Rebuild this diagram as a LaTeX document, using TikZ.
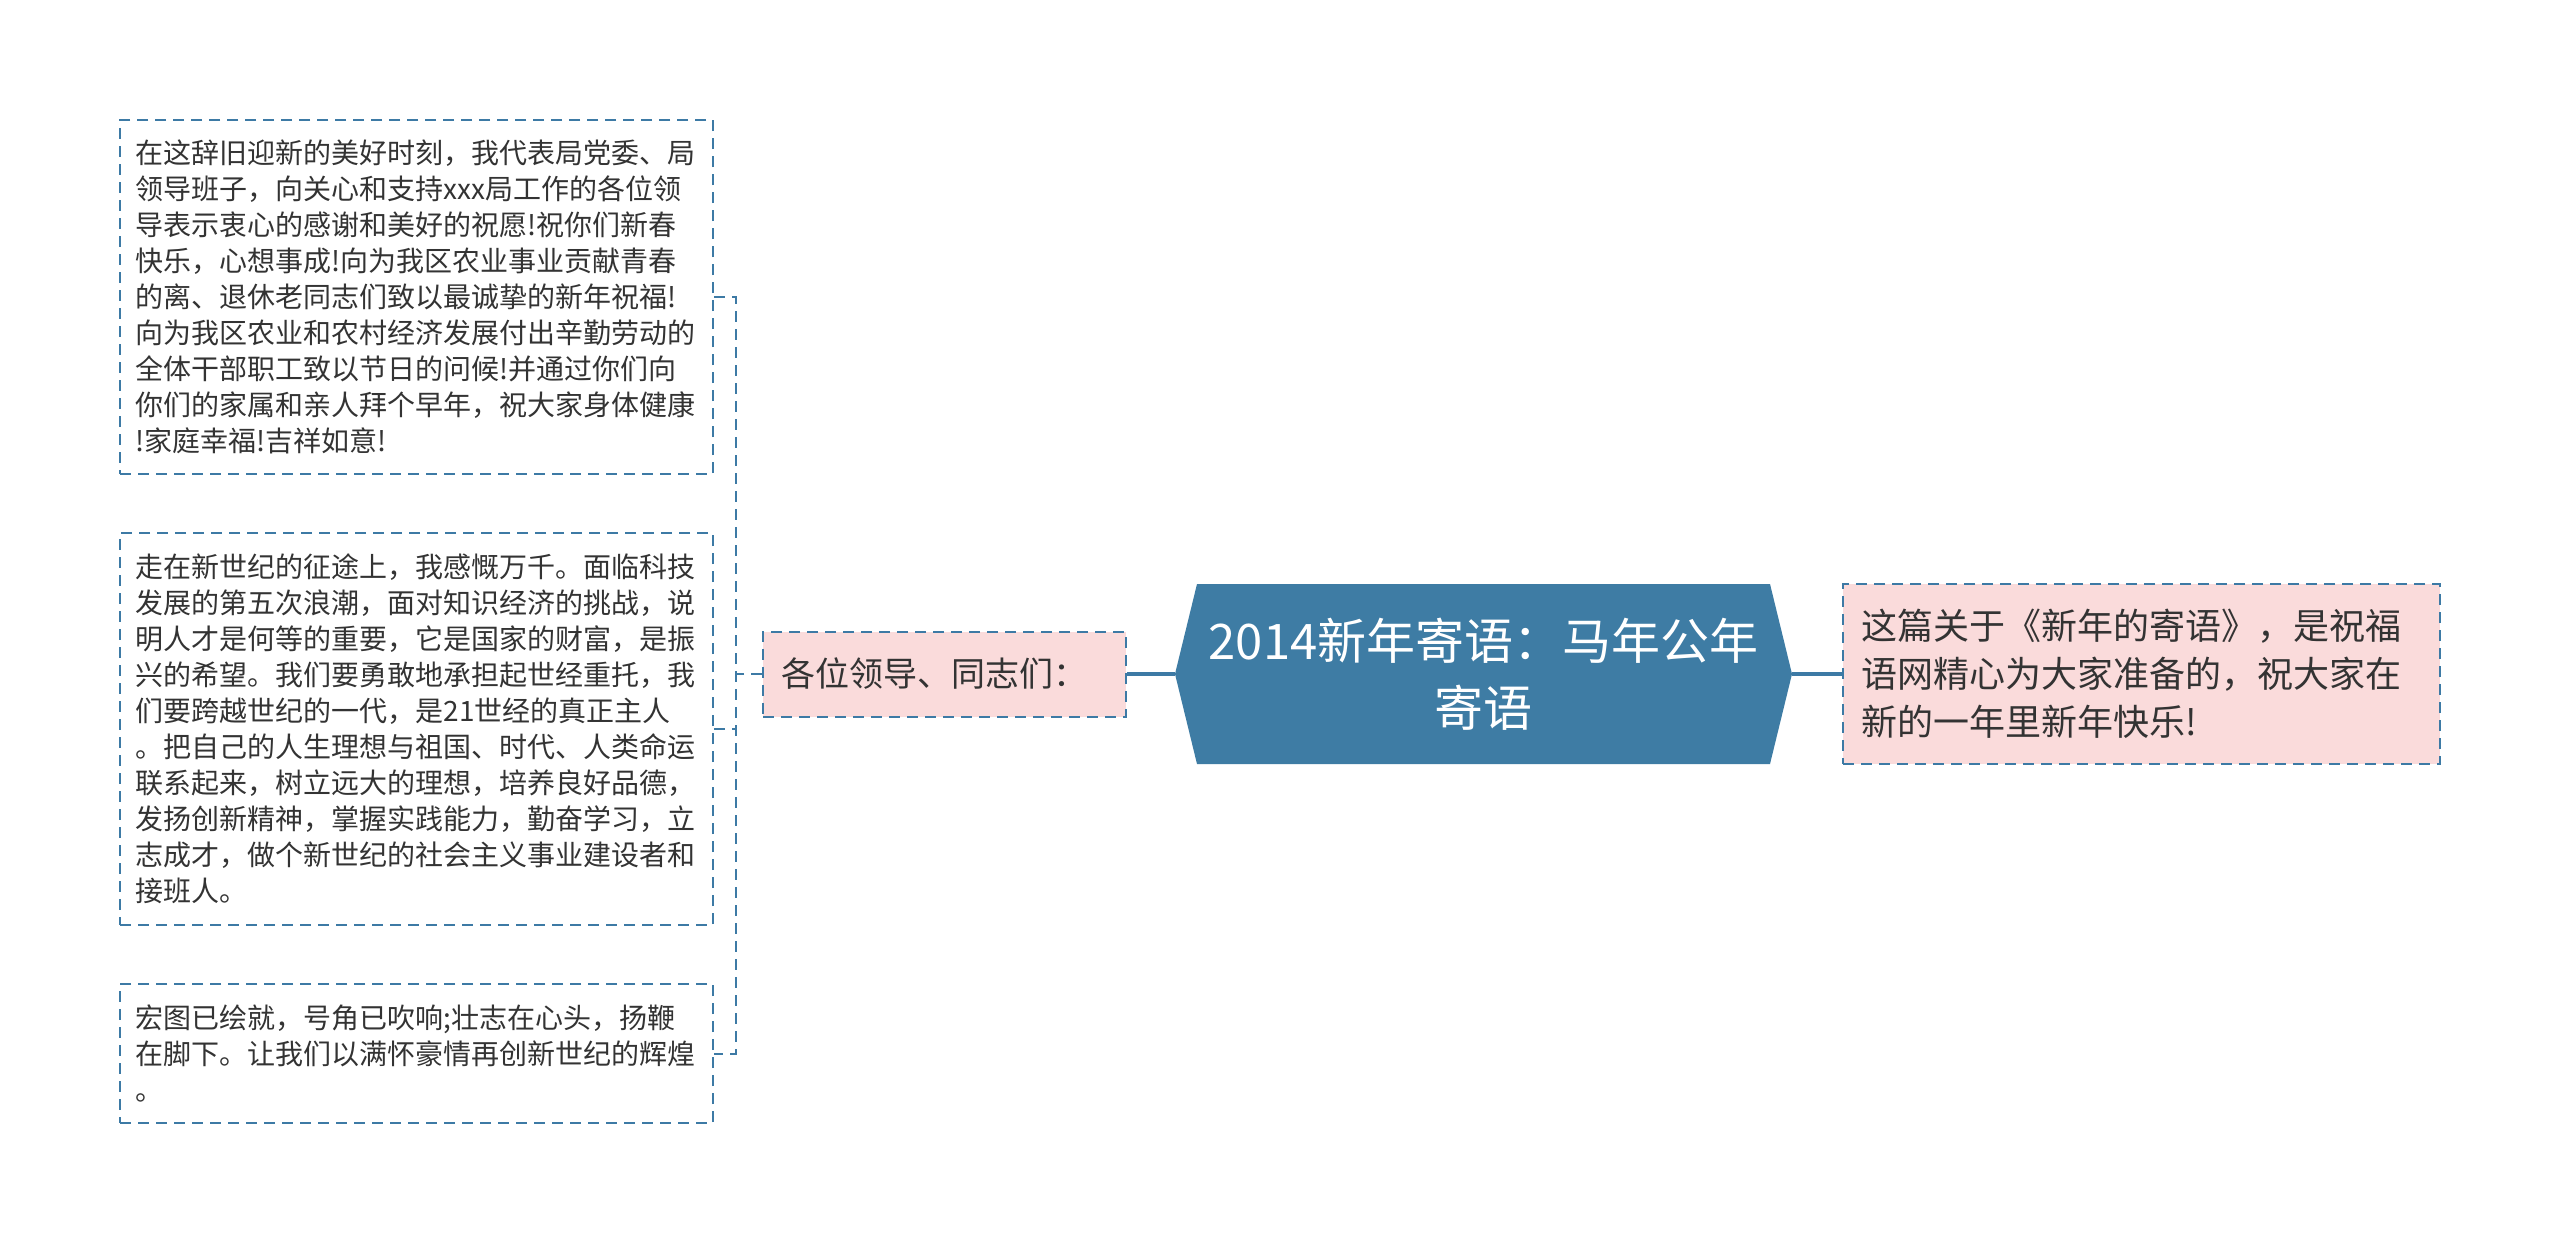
\documentclass[tikz,border=0pt]{standalone}
\usepackage{fontspec}
\setmainfont{Noto Sans CJK SC}
\definecolor{linkblue}{HTML}{3D7AA5}
\definecolor{titlefill}{HTML}{3E7CA4}
\definecolor{tagpink}{HTML}{FADBDB}
\definecolor{txtgray}{HTML}{333333}
\begin{document}
\begin{tikzpicture}[x=0.5pt,y=-0.5pt,
		memo/.style={draw=linkblue,line width=1pt,dash pattern=on 5.5pt off 3.5pt,fill=white,text=txtgray,
			font=\fontsize{14}{18}\selectfont,align=left,text width=281pt,inner xsep=7.5pt,inner ysep=0pt,
			minimum width=296.5pt,anchor=north west},
		tag/.style={draw=linkblue,line width=1pt,dash pattern=on 5.5pt off 3.5pt,fill=tagpink,text=txtgray,inner sep=0pt},
		twig/.style={draw=linkblue,line width=1pt,dash pattern=on 5.5pt off 3.5pt},
		trunk/.style={draw=linkblue,line width=1.6pt}]
	\fill[white] (0,0) rectangle (2560,1242);
	\path[use as bounding box] (0,0) rectangle (2560,1242);
	% centre
	\fill[titlefill] (1175,674) -- (1197,584) -- (1770,584) -- (1792,674) -- (1770,764) -- (1197,764) -- cycle;
	\node[text=white,align=center,font=\fontsize{24.5}{33.5}\selectfont,minimum width=308.5pt,minimum height=90pt,inner sep=0pt]
		(title) at (1483.5,674) {2014新年寄语：马年公年\\寄语};
	\path
	(762,674) node[tag,anchor=west,minimum width=181.5pt,minimum height=42.5pt,text width=163pt,inner xsep=9pt,
		align=left,font=\fontsize{17}{22}\selectfont] (leader) {各位领导、同志们：}
	(1842,674) node[tag,anchor=west,minimum width=298.5pt,minimum height=90pt,text width=280pt,inner xsep=9pt,
		align=left,font=\fontsize{18}{24}\selectfont] (note)
		{这篇关于《新年的寄语》，是祝福\\语网精心为大家准备的，祝大家在\\新的一年里新年快乐!}
	;
	\path
	(119,119) node[memo,minimum height=177pt] (box1) {在这辞旧迎新的美好时刻，我代表局党委、局\\
		领导班子，向关心和支持xxx局工作的各位领\\导表示衷心的感谢和美好的祝愿!祝你们新春\\
		快乐，心想事成!向为我区农业事业贡献青春\\的离、退休老同志们致以最诚挚的新年祝福!\\
		向为我区农业和农村经济发展付出辛勤劳动的\\全体干部职工致以节日的问候!并通过你们向\\
		你们的家属和亲人拜个早年，祝大家身体健康\\!家庭幸福!吉祥如意!}
	(119,532) node[memo,minimum height=196pt] (box2) {走在新世纪的征途上，我感慨万千。面临科技\\
		发展的第五次浪潮，面对知识经济的挑战，说\\明人才是何等的重要，它是国家的财富，是振\\
		兴的希望。我们要勇敢地承担起世经重托，我\\们要跨越世纪的一代，是21世经的真正主人\\
		。把自己的人生理想与祖国、时代、人类命运\\联系起来，树立远大的理想，培养良好品德，\\
		发扬创新精神，掌握实践能力，勤奋学习，立\\志成才，做个新世纪的社会主义事业建设者和\\接班人。}
	(119,983) node[memo,minimum height=69.5pt] (box3) {宏图已绘就，号角已吹响;壮志在心头，扬鞭\\
		在脚下。让我们以满怀豪情再创新世纪的辉煌\\。}
	;
	\coordinate (fork) at (736,674);
	\draw[trunk] (leader.east) -- (title.west);
	\draw[trunk] (title.east) -- (note.west);
	\draw[twig] (leader.west) -- (fork);
	\draw[twig] (box1.east) -| (fork) |- (box3.east);
	\draw[twig] (box2.east) -- (box2.east -| fork);
\end{tikzpicture}
\end{document}
